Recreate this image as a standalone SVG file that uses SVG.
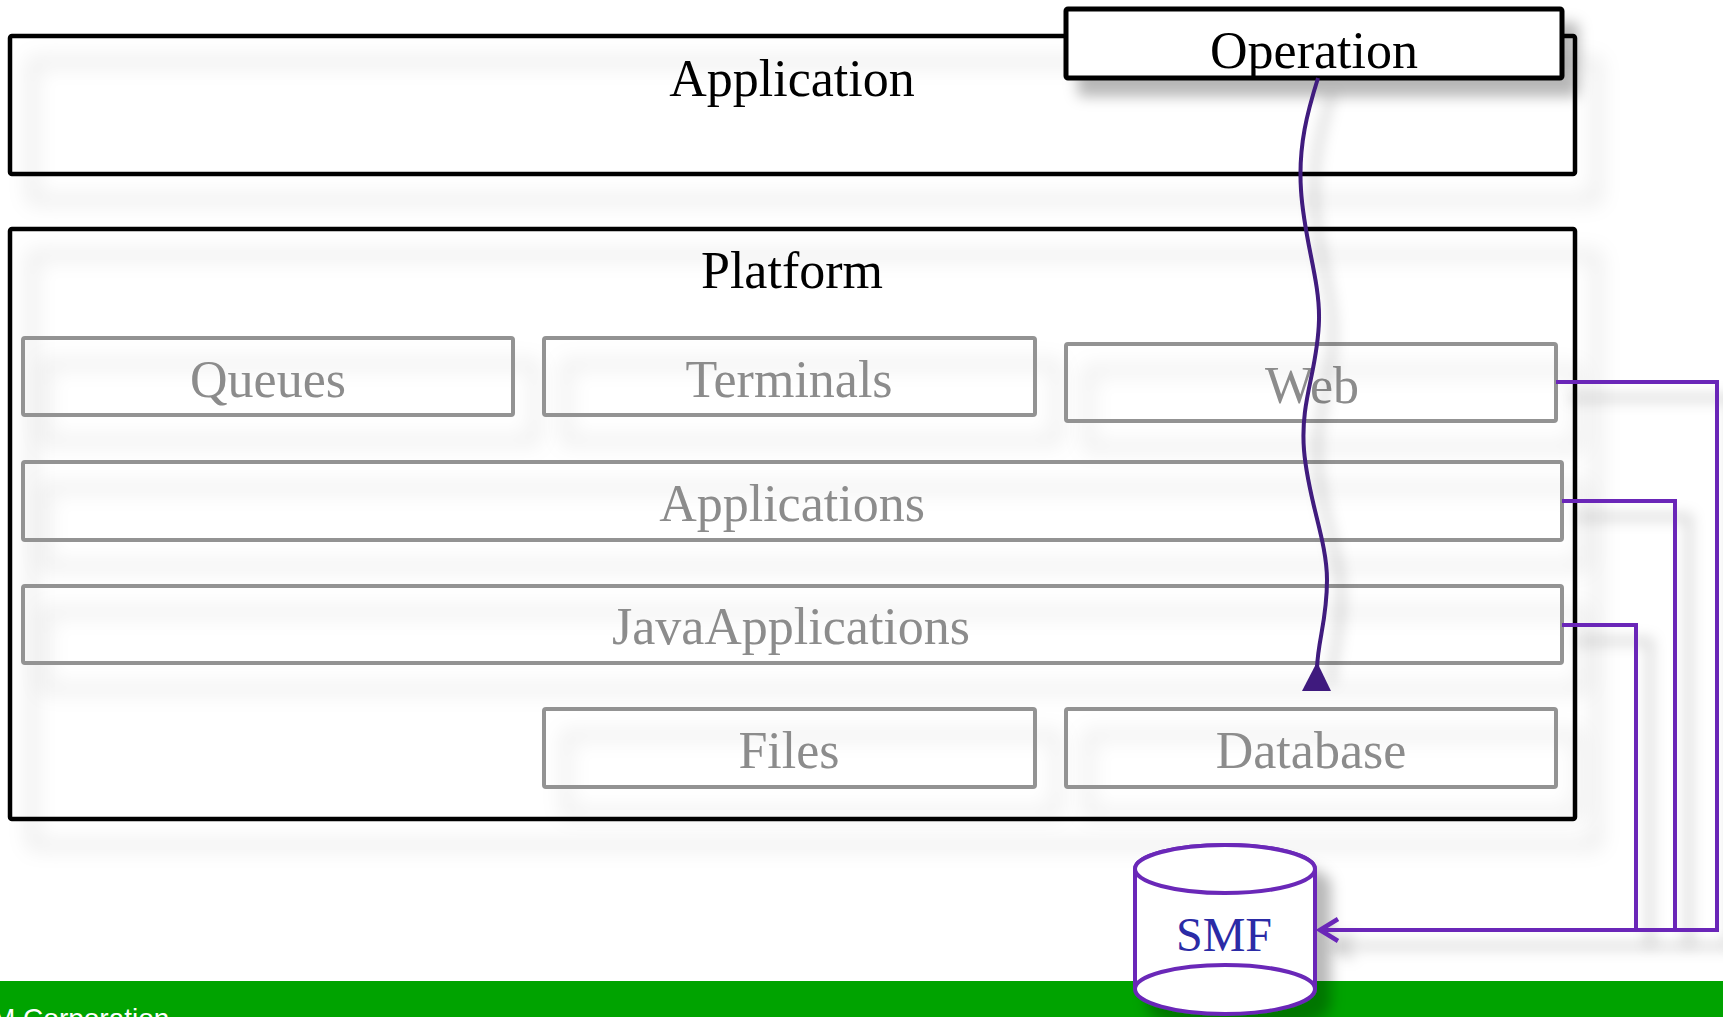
<svg xmlns="http://www.w3.org/2000/svg" width="1723" height="1017" viewBox="0 0 1723 1017">
<defs>
<filter id="sh" filterUnits="userSpaceOnUse" x="0" y="0" width="1723" height="1017">
<feDropShadow dx="22" dy="26" stdDeviation="10" flood-color="#000" flood-opacity="0.18"/>
</filter>
<filter id="shl" filterUnits="userSpaceOnUse" x="0" y="0" width="1723" height="1017">
<feDropShadow dx="14" dy="16" stdDeviation="7" flood-color="#000" flood-opacity="0.28"/>
</filter>
<marker id="open" viewBox="0 0 26 30" refX="22" refY="15" markerWidth="26" markerHeight="30" markerUnits="userSpaceOnUse" orient="auto">
<path d="M4,4 L22,15 L4,26" fill="none" stroke="#6a28b8" stroke-width="4.5"/>
</marker>
</defs>
<style>
.frame{fill:none;stroke:#000;stroke-width:4.5;}
.inner{fill:none;stroke:#939393;stroke-width:4;}
.t{font-family:"Liberation Serif","Times New Roman",serif;font-size:52px;text-anchor:middle;}
.blk{fill:#000;}
.gry{fill:#8c8c8c;}
.conn{fill:none;stroke:#6a28b8;stroke-width:4;}
.wave{fill:none;stroke:#3f1a7e;stroke-width:4;}
</style>
<rect width="1723" height="1017" fill="#fff"/>
<rect x="0" y="981" width="1723" height="36" fill="#00a300"/>
<text x="-8" y="1028" font-family="'Liberation Sans',Arial,sans-serif" font-size="28" fill="#fff">M Corporation</text>

<g id="application">
<rect class="frame" x="10" y="36" width="1565" height="138" rx="2" filter="url(#sh)"/>
<text class="t blk" x="792" y="96">Application</text>
</g>

<g id="platform">
<rect class="frame" x="10" y="229" width="1565" height="590" rx="2" filter="url(#sh)"/>
<text class="t blk" x="792" y="288">Platform</text>
</g>

<g id="queues">
<rect class="inner" x="23" y="338" width="490" height="77" rx="2" filter="url(#sh)"/>
<text class="t gry" x="268" y="397">Queues</text>
</g>
<g id="terminals">
<rect class="inner" x="544" y="338" width="491" height="77" rx="2" filter="url(#sh)"/>
<text class="t gry" x="789" y="397">Terminals</text>
</g>
<g id="web">
<rect class="inner" x="1066" y="344" width="490" height="77" rx="2" filter="url(#sh)"/>
<text class="t gry" x="1312" y="403">Web</text>
</g>
<g id="applications">
<rect class="inner" x="23" y="462" width="1539" height="78" rx="2" filter="url(#sh)"/>
<text class="t gry" x="792" y="521">Applications</text>
</g>
<g id="javaapplications">
<rect class="inner" x="23" y="586" width="1539" height="77" rx="2" filter="url(#sh)"/>
<text class="t gry" x="791" y="644">JavaApplications</text>
</g>
<g id="files">
<rect class="inner" x="544" y="709" width="491" height="78" rx="2" filter="url(#sh)"/>
<text class="t gry" x="789" y="768">Files</text>
</g>
<g id="database">
<rect class="inner" x="1066" y="709" width="490" height="78" rx="2" filter="url(#sh)"/>
<text class="t gry" x="1311" y="768">Database</text>
</g>

<g id="operation">
<rect x="1066" y="9" width="496" height="69" rx="2" fill="#fff" stroke="#000" stroke-width="5" filter="url(#shl)"/>
<text class="t blk" x="1314" y="68">Operation</text>
</g>

<g id="smf">
<path d="M1135,869 L1135,989 A90,25 0 0 0 1315,989 L1315,869 A90,24 0 0 0 1135,869 Z" fill="#fff" stroke="#6a28b8" stroke-width="4" filter="url(#shl)"/>
<ellipse cx="1225" cy="869" rx="90" ry="24" fill="#fff" stroke="#6a28b8" stroke-width="4"/>
<path d="M1135,989 A90,24 0 0 1 1315,989" fill="none" stroke="#6a28b8" stroke-width="4"/>
<text x="1224" y="951" font-family="'Liberation Serif','Times New Roman',serif" font-size="48" text-anchor="middle" fill="#2b2ba6">SMF</text>
</g>

<g id="connectors">
<path class="wave" filter="url(#shl)" d="M1318,78 C1308,110 1298,145 1301,190 C1304,240 1320,280 1319,320 C1318,370 1300,400 1304,450 C1308,500 1327,540 1327,580 C1327,620 1318,640 1317,668"/>
<polygon points="1317,662 1302,691 1331,691" fill="#3f1a7e"/>
<path class="conn" filter="url(#shl)" d="M1556,382 H1717 V930"/>
<path class="conn" filter="url(#shl)" d="M1562,501 H1675 V930"/>
<path class="conn" filter="url(#shl)" d="M1562,625 H1636 V930"/>
<path class="conn" filter="url(#shl)" d="M1719,930 H1320" marker-end="url(#open)"/>
</g>
</svg>
